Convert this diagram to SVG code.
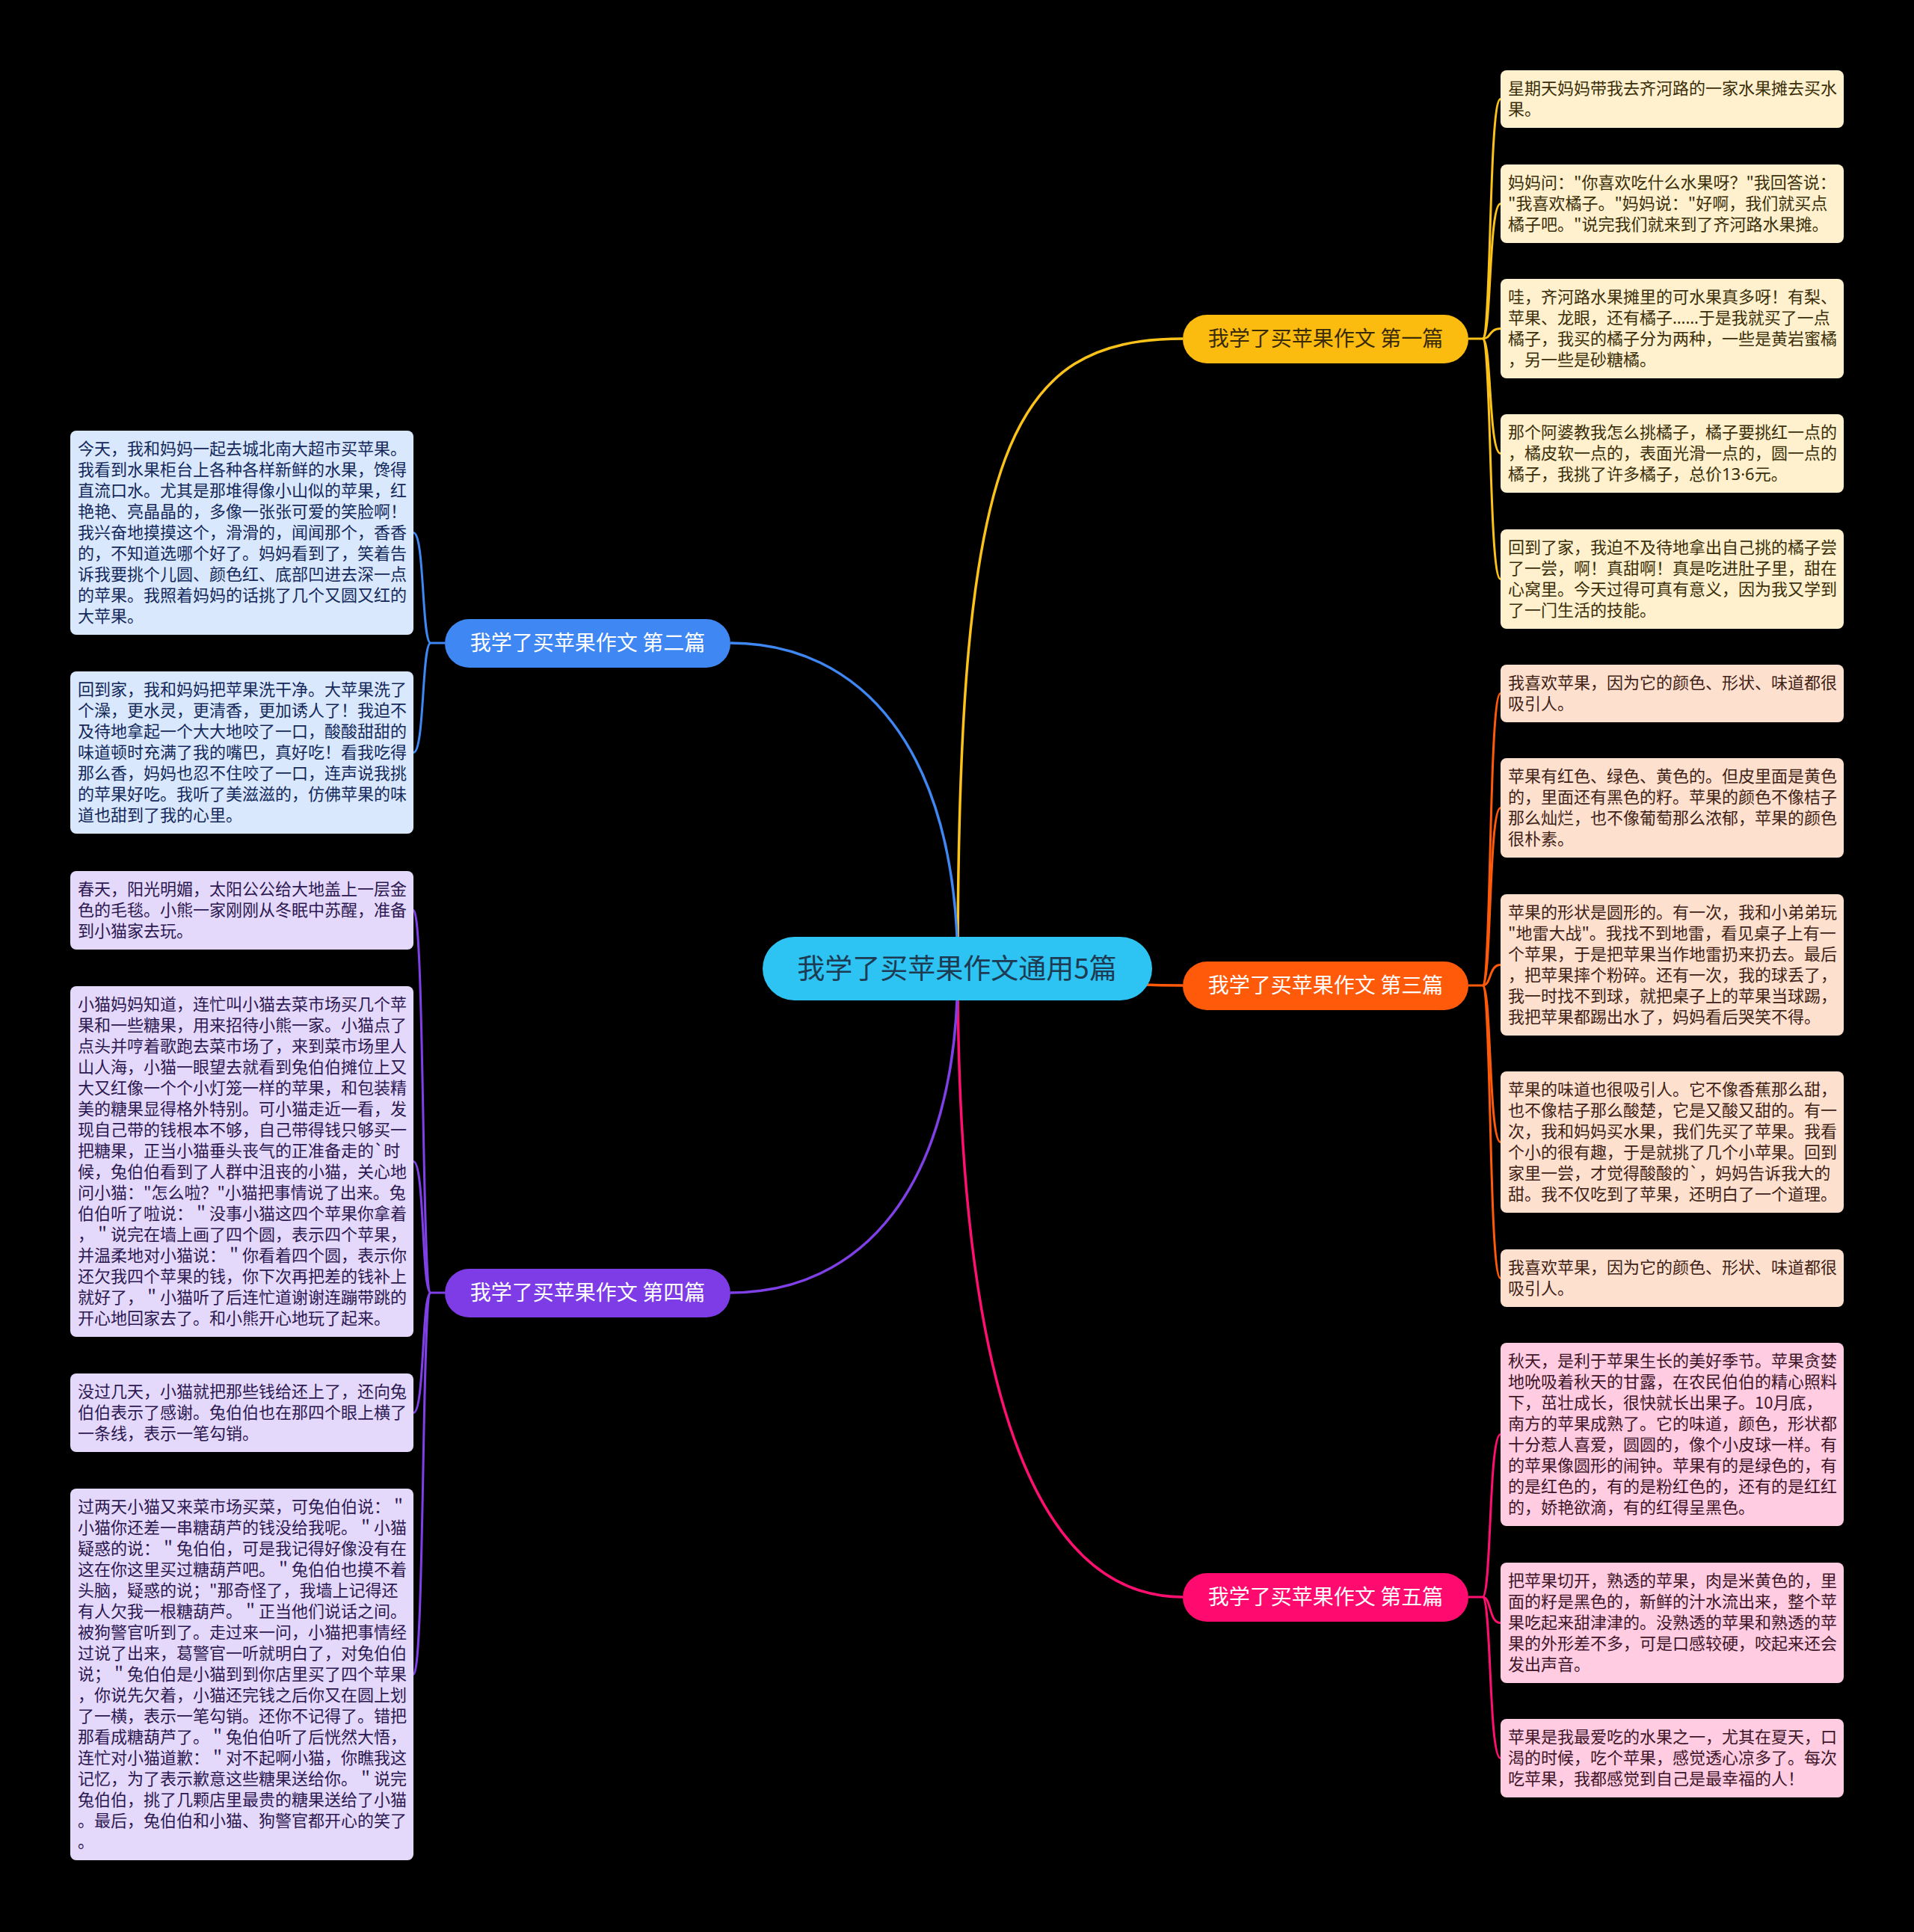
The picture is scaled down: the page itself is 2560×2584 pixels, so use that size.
<svg xmlns="http://www.w3.org/2000/svg" width="2560" height="2584" viewBox="0 0 2560 2584">
<style>
text{font-family:"Noto Sans CJK SC","Noto Sans",sans-serif;}
.lat{font-family:"Noto Sans","Noto Sans CJK SC",sans-serif;}
.leaf{font-size:22px;}
.br{font-size:28px;text-anchor:middle;}
.c{fill:none;stroke-width:3.5;}
.s{fill:none;stroke-width:3;}
.y{stroke:#FBC21A}.o{stroke:#FF5A0A}.p{stroke:#FF1070}.b{stroke:#3F87F2}.v{stroke:#8040E8}
.ly{fill:#FFF1CD}.lo{fill:#FEE0CF}.lp{fill:#FFCCE2}.lb{fill:#D9E8FD}.lv{fill:#E5D9FB}
.ty{fill:#3b2e0a}.to{fill:#3e2216}.tp{fill:#3e1528}.tb{fill:#14285a}.tv{fill:#2c1850}
</style>
<rect width="2560" height="2584" fill="#000"/>
<g id="connectors">
<path class="c y" d="M1281,1296 C1281,600 1350,453 1582,453"/>
<path class="c o" d="M1281,1296 C1400,1296 1440,1318 1582,1318"/>
<path class="c p" d="M1281,1296 C1281,1900 1400,2136 1582,2136"/>
<path class="c b" d="M1281,1296 C1281,1000 1150,860 977,860"/>
<path class="c v" d="M1281,1296 C1281,1592 1150,1729 977,1729"/>
<path class="s y" d="M1964,453 H1983"/>
<path class="s y" d="M1983,453 C1995,453 1991,132.5 2007,132.5"/>
<path class="s y" d="M1983,453 C1995,453 1991,272.5 2007,272.5"/>
<path class="s y" d="M1983,453 C1995,453 1991,439.5 2007,439.5"/>
<path class="s y" d="M1983,453 C1995,453 1991,606.5 2007,606.5"/>
<path class="s y" d="M1983,453 C1995,453 1991,774.5 2007,774.5"/>
<path class="s o" d="M1964,1318 H1983"/>
<path class="s o" d="M1983,1318 C1995,1318 1991,927.5 2007,927.5"/>
<path class="s o" d="M1983,1318 C1995,1318 1991,1080.5 2007,1080.5"/>
<path class="s o" d="M1983,1318 C1995,1318 1991,1290.5 2007,1290.5"/>
<path class="s o" d="M1983,1318 C1995,1318 1991,1527.5 2007,1527.5"/>
<path class="s o" d="M1983,1318 C1995,1318 1991,1709.5 2007,1709.5"/>
<path class="s p" d="M1964,2136 H1983"/>
<path class="s p" d="M1983,2136 C1995,2136 1991,1918.5 2007,1918.5"/>
<path class="s p" d="M1983,2136 C1995,2136 1991,2170.5 2007,2170.5"/>
<path class="s p" d="M1983,2136 C1995,2136 1991,2351.5 2007,2351.5"/>
<path class="s b" d="M595,860 H576"/>
<path class="s b" d="M576,860 C564,860 568,712.5 553,712.5"/>
<path class="s b" d="M576,860 C564,860 568,1006.5 553,1006.5"/>
<path class="s v" d="M595,1729 H576"/>
<path class="s v" d="M576,1729 C564,1729 568,1217.5 553,1217.5"/>
<path class="s v" d="M576,1729 C564,1729 568,1553.5 553,1553.5"/>
<path class="s v" d="M576,1729 C564,1729 568,1889.5 553,1889.5"/>
<path class="s v" d="M576,1729 C564,1729 568,2239.5 553,2239.5"/>
</g>
<g id="center">
<rect x="1020" y="1253" width="521" height="85" rx="42.5" fill="#2DC3F2"/>
<text x="1280" y="1309" font-size="37" text-anchor="middle" fill="#1d3b52">我学了买苹果作文通用5篇</text>
</g>
<g id="b1">
<rect x="1582" y="421" width="382" height="65" rx="32.5" fill="#FBBC0F"/>
<text class="br" x="1773" y="463" fill="#3a2a05">我学了买苹果作文 第一篇</text>
</g>
<g id="b3">
<rect x="1582" y="1286" width="382" height="65" rx="32.5" fill="#FF5A0A"/>
<text class="br" x="1773" y="1328" fill="#fff">我学了买苹果作文 第三篇</text>
</g>
<g id="b5">
<rect x="1582" y="2104" width="382" height="65" rx="32.5" fill="#FF0A6E"/>
<text class="br" x="1773" y="2146" fill="#fff">我学了买苹果作文 第五篇</text>
</g>
<g id="b2">
<rect x="595" y="828" width="382" height="65" rx="32.5" fill="#3F87F2"/>
<text class="br" x="786" y="870" fill="#fff">我学了买苹果作文 第二篇</text>
</g>
<g id="b4">
<rect x="595" y="1697" width="382" height="65" rx="32.5" fill="#7E3CE6"/>
<text class="br" x="786" y="1739" fill="#fff">我学了买苹果作文 第四篇</text>
</g>
<g id="r1">
<rect class="ly" x="2007" y="94" width="459" height="77" rx="8"/>
<text class="leaf ty" x="2017" y="126"><tspan x="2017">星期天妈妈带我去齐河路的一家水果摊去买水</tspan><tspan x="2017" dy="28">果。</tspan></text>
</g>
<g id="r2">
<rect class="ly" x="2007" y="220" width="459" height="105" rx="8"/>
<text class="leaf ty" x="2017" y="252"><tspan x="2017">妈妈问："你喜欢吃什么水果呀？"我回答说：</tspan><tspan x="2017" dy="28">"我喜欢橘子。"妈妈说："好啊，我们就买点</tspan><tspan x="2017" dy="28">橘子吧。"说完我们就来到了齐河路水果摊。</tspan></text>
</g>
<g id="r3">
<rect class="ly" x="2007" y="373" width="459" height="133" rx="8"/>
<text class="leaf ty" x="2017" y="405"><tspan x="2017">哇，齐河路水果摊里的可水果真多呀！有梨、</tspan><tspan x="2017" dy="28">苹果、龙眼，还有橘子<tspan class="lat">……</tspan>于是我就买了一点</tspan><tspan x="2017" dy="28">橘子，我买的橘子分为两种，一些是黄岩蜜橘</tspan><tspan x="2017" dy="28">，另一些是砂糖橘。</tspan></text>
</g>
<g id="r4">
<rect class="ly" x="2007" y="554" width="459" height="105" rx="8"/>
<text class="leaf ty" x="2017" y="586"><tspan x="2017">那个阿婆教我怎么挑橘子，橘子要挑红一点的</tspan><tspan x="2017" dy="28">，橘皮软一点的，表面光滑一点的，圆一点的</tspan><tspan x="2017" dy="28">橘子，我挑了许多橘子，总价<tspan class="lat">13·6</tspan>元。</tspan></text>
</g>
<g id="r5">
<rect class="ly" x="2007" y="708" width="459" height="133" rx="8"/>
<text class="leaf ty" x="2017" y="740"><tspan x="2017">回到了家，我迫不及待地拿出自己挑的橘子尝</tspan><tspan x="2017" dy="28">了一尝，啊！真甜啊！真是吃进肚子里，甜在</tspan><tspan x="2017" dy="28">心窝里。今天过得可真有意义，因为我又学到</tspan><tspan x="2017" dy="28">了一门生活的技能。</tspan></text>
</g>
<g id="r6">
<rect class="lo" x="2007" y="889" width="459" height="77" rx="8"/>
<text class="leaf to" x="2017" y="921"><tspan x="2017">我喜欢苹果，因为它的颜色、形状、味道都很</tspan><tspan x="2017" dy="28">吸引人。</tspan></text>
</g>
<g id="r7">
<rect class="lo" x="2007" y="1014" width="459" height="133" rx="8"/>
<text class="leaf to" x="2017" y="1046"><tspan x="2017">苹果有红色、绿色、黄色的。但皮里面是黄色</tspan><tspan x="2017" dy="28">的，里面还有黑色的籽。苹果的颜色不像桔子</tspan><tspan x="2017" dy="28">那么灿烂，也不像葡萄那么浓郁，苹果的颜色</tspan><tspan x="2017" dy="28">很朴素。</tspan></text>
</g>
<g id="r8">
<rect class="lo" x="2007" y="1196" width="459" height="189" rx="8"/>
<text class="leaf to" x="2017" y="1228"><tspan x="2017">苹果的形状是圆形的。有一次，我和小弟弟玩</tspan><tspan x="2017" dy="28">"地雷大战"。我找不到地雷，看见桌子上有一</tspan><tspan x="2017" dy="28">个苹果，于是把苹果当作地雷扔来扔去。最后</tspan><tspan x="2017" dy="28">，把苹果摔个粉碎。还有一次，我的球丢了，</tspan><tspan x="2017" dy="28">我一时找不到球，就把桌子上的苹果当球踢，</tspan><tspan x="2017" dy="28">我把苹果都踢出水了，妈妈看后哭笑不得。</tspan></text>
</g>
<g id="r9">
<rect class="lo" x="2007" y="1433" width="459" height="189" rx="8"/>
<text class="leaf to" x="2017" y="1465"><tspan x="2017">苹果的味道也很吸引人。它不像香蕉那么甜，</tspan><tspan x="2017" dy="28">也不像桔子那么酸楚，它是又酸又甜的。有一</tspan><tspan x="2017" dy="28">次，我和妈妈买水果，我们先买了苹果。我看</tspan><tspan x="2017" dy="28">个小的很有趣，于是就挑了几个小苹果。回到</tspan><tspan x="2017" dy="28">家里一尝，才觉得酸酸的`，妈妈告诉我大的</tspan><tspan x="2017" dy="28">甜。我不仅吃到了苹果，还明白了一个道理。</tspan></text>
</g>
<g id="r10">
<rect class="lo" x="2007" y="1671" width="459" height="77" rx="8"/>
<text class="leaf to" x="2017" y="1703"><tspan x="2017">我喜欢苹果，因为它的颜色、形状、味道都很</tspan><tspan x="2017" dy="28">吸引人。</tspan></text>
</g>
<g id="r11">
<rect class="lp" x="2007" y="1796" width="459" height="245" rx="8"/>
<text class="leaf tp" x="2017" y="1828"><tspan x="2017">秋天，是利于苹果生长的美好季节。苹果贪婪</tspan><tspan x="2017" dy="28">地吮吸着秋天的甘露，在农民伯伯的精心照料</tspan><tspan x="2017" dy="28">下，茁壮成长，很快就长出果子。10月底，</tspan><tspan x="2017" dy="28">南方的苹果成熟了。它的味道，颜色，形状都</tspan><tspan x="2017" dy="28">十分惹人喜爱，圆圆的，像个小皮球一样。有</tspan><tspan x="2017" dy="28">的苹果像圆形的闹钟。苹果有的是绿色的，有</tspan><tspan x="2017" dy="28">的是红色的，有的是粉红色的，还有的是红红</tspan><tspan x="2017" dy="28">的，娇艳欲滴，有的红得呈黑色。</tspan></text>
</g>
<g id="r12">
<rect class="lp" x="2007" y="2090" width="459" height="161" rx="8"/>
<text class="leaf tp" x="2017" y="2122"><tspan x="2017">把苹果切开，熟透的苹果，肉是米黄色的，里</tspan><tspan x="2017" dy="28">面的籽是黑色的，新鲜的汁水流出来，整个苹</tspan><tspan x="2017" dy="28">果吃起来甜津津的。没熟透的苹果和熟透的苹</tspan><tspan x="2017" dy="28">果的外形差不多，可是口感较硬，咬起来还会</tspan><tspan x="2017" dy="28">发出声音。</tspan></text>
</g>
<g id="r13">
<rect class="lp" x="2007" y="2299" width="459" height="105" rx="8"/>
<text class="leaf tp" x="2017" y="2331"><tspan x="2017">苹果是我最爱吃的水果之一，尤其在夏天，口</tspan><tspan x="2017" dy="28">渴的时候，吃个苹果，感觉透心凉多了。每次</tspan><tspan x="2017" dy="28">吃苹果，我都感觉到自己是最幸福的人！</tspan></text>
</g>
<g id="l1">
<rect class="lb" x="94" y="576" width="459" height="273" rx="8"/>
<text class="leaf tb" x="104" y="608"><tspan x="104">今天，我和妈妈一起去城北南大超市买苹果。</tspan><tspan x="104" dy="28">我看到水果柜台上各种各样新鲜的水果，馋得</tspan><tspan x="104" dy="28">直流口水。尤其是那堆得像小山似的苹果，红</tspan><tspan x="104" dy="28">艳艳、亮晶晶的，多像一张张可爱的笑脸啊！</tspan><tspan x="104" dy="28">我兴奋地摸摸这个，滑滑的，闻闻那个，香香</tspan><tspan x="104" dy="28">的，不知道选哪个好了。妈妈看到了，笑着告</tspan><tspan x="104" dy="28">诉我要挑个儿圆、颜色红、底部凹进去深一点</tspan><tspan x="104" dy="28">的苹果。我照着妈妈的话挑了几个又圆又红的</tspan><tspan x="104" dy="28">大苹果。</tspan></text>
</g>
<g id="l2">
<rect class="lb" x="94" y="898" width="459" height="217" rx="8"/>
<text class="leaf tb" x="104" y="930"><tspan x="104">回到家，我和妈妈把苹果洗干净。大苹果洗了</tspan><tspan x="104" dy="28">个澡，更水灵，更清香，更加诱人了！我迫不</tspan><tspan x="104" dy="28">及待地拿起一个大大地咬了一口，酸酸甜甜的</tspan><tspan x="104" dy="28">味道顿时充满了我的嘴巴，真好吃！看我吃得</tspan><tspan x="104" dy="28">那么香，妈妈也忍不住咬了一口，连声说我挑</tspan><tspan x="104" dy="28">的苹果好吃。我听了美滋滋的，仿佛苹果的味</tspan><tspan x="104" dy="28">道也甜到了我的心里。</tspan></text>
</g>
<g id="l3">
<rect class="lv" x="94" y="1165" width="459" height="105" rx="8"/>
<text class="leaf tv" x="104" y="1197"><tspan x="104">春天，阳光明媚，太阳公公给大地盖上一层金</tspan><tspan x="104" dy="28">色的毛毯。小熊一家刚刚从冬眠中苏醒，准备</tspan><tspan x="104" dy="28">到小猫家去玩。</tspan></text>
</g>
<g id="l4">
<rect class="lv" x="94" y="1319" width="459" height="469" rx="8"/>
<text class="leaf tv" x="104" y="1351"><tspan x="104">小猫妈妈知道，连忙叫小猫去菜市场买几个苹</tspan><tspan x="104" dy="28">果和一些糖果，用来招待小熊一家。小猫点了</tspan><tspan x="104" dy="28">点头并哼着歌跑去菜市场了，来到菜市场里人</tspan><tspan x="104" dy="28">山人海，小猫一眼望去就看到兔伯伯摊位上又</tspan><tspan x="104" dy="28">大又红像一个个小灯笼一样的苹果，和包装精</tspan><tspan x="104" dy="28">美的糖果显得格外特别。可小猫走近一看，发</tspan><tspan x="104" dy="28">现自己带的钱根本不够，自己带得钱只够买一</tspan><tspan x="104" dy="28">把糖果，正当小猫垂头丧气的正准备走的`时</tspan><tspan x="104" dy="28">候，兔伯伯看到了人群中沮丧的小猫，关心地</tspan><tspan x="104" dy="28">问小猫："怎么啦？"小猫把事情说了出来。兔</tspan><tspan x="104" dy="28">伯伯听了啦说：＂没事小猫这四个苹果你拿着</tspan><tspan x="104" dy="28">，＂说完在墙上画了四个圆，表示四个苹果，</tspan><tspan x="104" dy="28">并温柔地对小猫说：＂你看着四个圆，表示你</tspan><tspan x="104" dy="28">还欠我四个苹果的钱，你下次再把差的钱补上</tspan><tspan x="104" dy="28">就好了，＂小猫听了后连忙道谢谢连蹦带跳的</tspan><tspan x="104" dy="28">开心地回家去了。和小熊开心地玩了起来。</tspan></text>
</g>
<g id="l5">
<rect class="lv" x="94" y="1837" width="459" height="105" rx="8"/>
<text class="leaf tv" x="104" y="1869"><tspan x="104">没过几天，小猫就把那些钱给还上了，还向兔</tspan><tspan x="104" dy="28">伯伯表示了感谢。兔伯伯也在那四个眼上横了</tspan><tspan x="104" dy="28">一条线，表示一笔勾销。</tspan></text>
</g>
<g id="l6">
<rect class="lv" x="94" y="1991" width="459" height="497" rx="8"/>
<text class="leaf tv" x="104" y="2023"><tspan x="104">过两天小猫又来菜市场买菜，可兔伯伯说：＂</tspan><tspan x="104" dy="28">小猫你还差一串糖葫芦的钱没给我呢。＂小猫</tspan><tspan x="104" dy="28">疑惑的说：＂兔伯伯，可是我记得好像没有在</tspan><tspan x="104" dy="28">这在你这里买过糖葫芦吧。＂兔伯伯也摸不着</tspan><tspan x="104" dy="28">头脑，疑惑的说；"那奇怪了，我墙上记得还</tspan><tspan x="104" dy="28">有人欠我一根糖葫芦。＂正当他们说话之间。</tspan><tspan x="104" dy="28">被狗警官听到了。走过来一问，小猫把事情经</tspan><tspan x="104" dy="28">过说了出来，葛警官一听就明白了，对兔伯伯</tspan><tspan x="104" dy="28">说；＂兔伯伯是小猫到到你店里买了四个苹果</tspan><tspan x="104" dy="28">，你说先欠着，小猫还完钱之后你又在圆上划</tspan><tspan x="104" dy="28">了一横，表示一笔勾销。还你不记得了。错把</tspan><tspan x="104" dy="28">那看成糖葫芦了。＂兔伯伯听了后恍然大悟，</tspan><tspan x="104" dy="28">连忙对小猫道歉：＂对不起啊小猫，你瞧我这</tspan><tspan x="104" dy="28">记忆，为了表示歉意这些糖果送给你。＂说完</tspan><tspan x="104" dy="28">兔伯伯，挑了几颗店里最贵的糖果送给了小猫</tspan><tspan x="104" dy="28">。最后，兔伯伯和小猫、狗警官都开心的笑了</tspan><tspan x="104" dy="28">。</tspan></text>
</g>
</svg>
